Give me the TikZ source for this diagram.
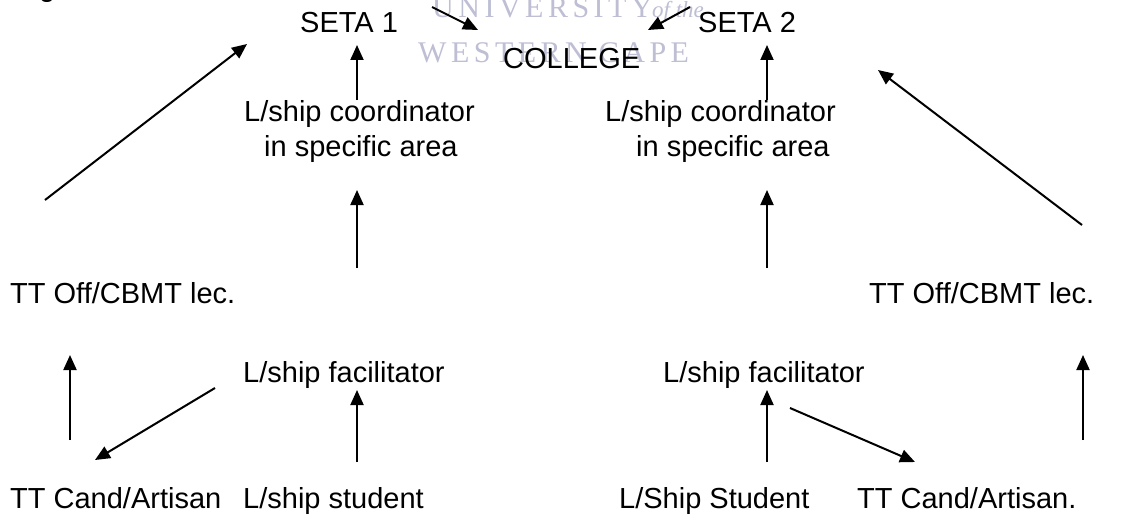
\documentclass[tikz,border=0pt]{standalone}
\usepackage{fontspec}
\setmainfont{Liberation Sans}
\newfontfamily\wmfont[LetterSpace=15]{Liberation Serif}
\newfontfamily\wmital{Liberation Serif}
\usetikzlibrary{arrows.meta}
\definecolor{wmgrey}{RGB}{190,190,212}
\begin{document}
\begin{tikzpicture}[x=1pt,y=-1pt,
  lbl/.style={anchor=base west,inner sep=0pt,font=\fontsize{29}{33}\selectfont},
  wm/.style={anchor=base west,inner sep=0pt,text=wmgrey},
  link/.style={line width=2pt,-{Triangle[length=15pt,width=13pt]}}]
\useasboundingbox (0,0) rectangle (1121,519);
\fill[white] (0,0) rectangle (1121,519);
\clip (0,0) rectangle (1121,519);

% caption fragment above the figure
\node[lbl] (capfrag) at (39,-3) {g};

% watermark
\node[wm,font=\wmfont\fontsize{30}{32}\selectfont] (wmuni) at (432,18) {UNIVERSITY};
\node[wm,font=\wmital\itshape\fontsize{23}{25}\selectfont] (wmof) at (652,18) {of the};
\node[wm,font=\wmfont\fontsize{30}{32}\selectfont] (wmwc) at (418,63) {WESTERN CAPE};

% labels
\node[lbl] (seta1) at (300,33) {SETA 1};
\node[lbl] (seta2) at (698,33) {SETA 2};
\node[lbl] (college) at (503,69) {COLLEGE};
\node[lbl] (coordLa) at (244,121) {L/ship coordinator};
\node[lbl] (coordLb) at (264,156) {in specific area};
\node[lbl] (coordRa) at (605,121) {L/ship coordinator};
\node[lbl] (coordRb) at (636,156) {in specific area};
\node[lbl] (ttoffL) at (10,303) {TT Off/CBMT lec.};
\node[lbl] (ttoffR) at (869,303) {TT Off/CBMT lec.};
\node[lbl] (facL) at (243,382) {L/ship facilitator};
\node[lbl] (facR) at (663,382) {L/ship facilitator};
\node[lbl] (candL) at (10,508) {TT Cand/Artisan};
\node[lbl] (studL) at (243,508) {L/ship student};
\node[lbl] (studR) at (619,508) {L/Ship Student};
\node[lbl] (candR) at (857,508) {TT Cand/Artisan.};

% connector end points
\coordinate (s1c0) at (432,7);   \coordinate (s1c1) at (478,30);
\coordinate (s2c0) at (690,7);   \coordinate (s2c1) at (648,30);
\coordinate (cLs0) at (357,100); \coordinate (cLs1) at (357,45);
\coordinate (cRs0) at (767,100); \coordinate (cRs1) at (767,45);
\coordinate (oLs0) at (45,200);  \coordinate (oLs1) at (247,44);
\coordinate (oRs0) at (1082,225);\coordinate (oRs1) at (878,70);
\coordinate (fLc0) at (357,268); \coordinate (fLc1) at (357,190);
\coordinate (fRc0) at (767,268); \coordinate (fRc1) at (767,190);
\coordinate (kLo0) at (70,440);  \coordinate (kLo1) at (70,355);
\coordinate (kRo0) at (1083,440);\coordinate (kRo1) at (1083,355);
\coordinate (sLf0) at (357,462); \coordinate (sLf1) at (357,390);
\coordinate (sRf0) at (767,462); \coordinate (sRf1) at (767,390);
\coordinate (fLk0) at (215,388); \coordinate (fLk1) at (95,460);
\coordinate (fRk0) at (790,408); \coordinate (fRk1) at (915,462);

% connectors
\draw[link] (s1c0) -- (s1c1);
\draw[link] (s2c0) -- (s2c1);
\draw[link] (cLs0) -- (cLs1);
\draw[link] (cRs0) -- (cRs1);
\draw[link] (oLs0) -- (oLs1);
\draw[link] (oRs0) -- (oRs1);
\draw[link] (fLc0) -- (fLc1);
\draw[link] (fRc0) -- (fRc1);
\draw[link] (kLo0) -- (kLo1);
\draw[link] (kRo0) -- (kRo1);
\draw[link] (sLf0) -- (sLf1);
\draw[link] (sRf0) -- (sRf1);
\draw[link] (fLk0) -- (fLk1);
\draw[link] (fRk0) -- (fRk1);
\end{tikzpicture}
\end{document}
